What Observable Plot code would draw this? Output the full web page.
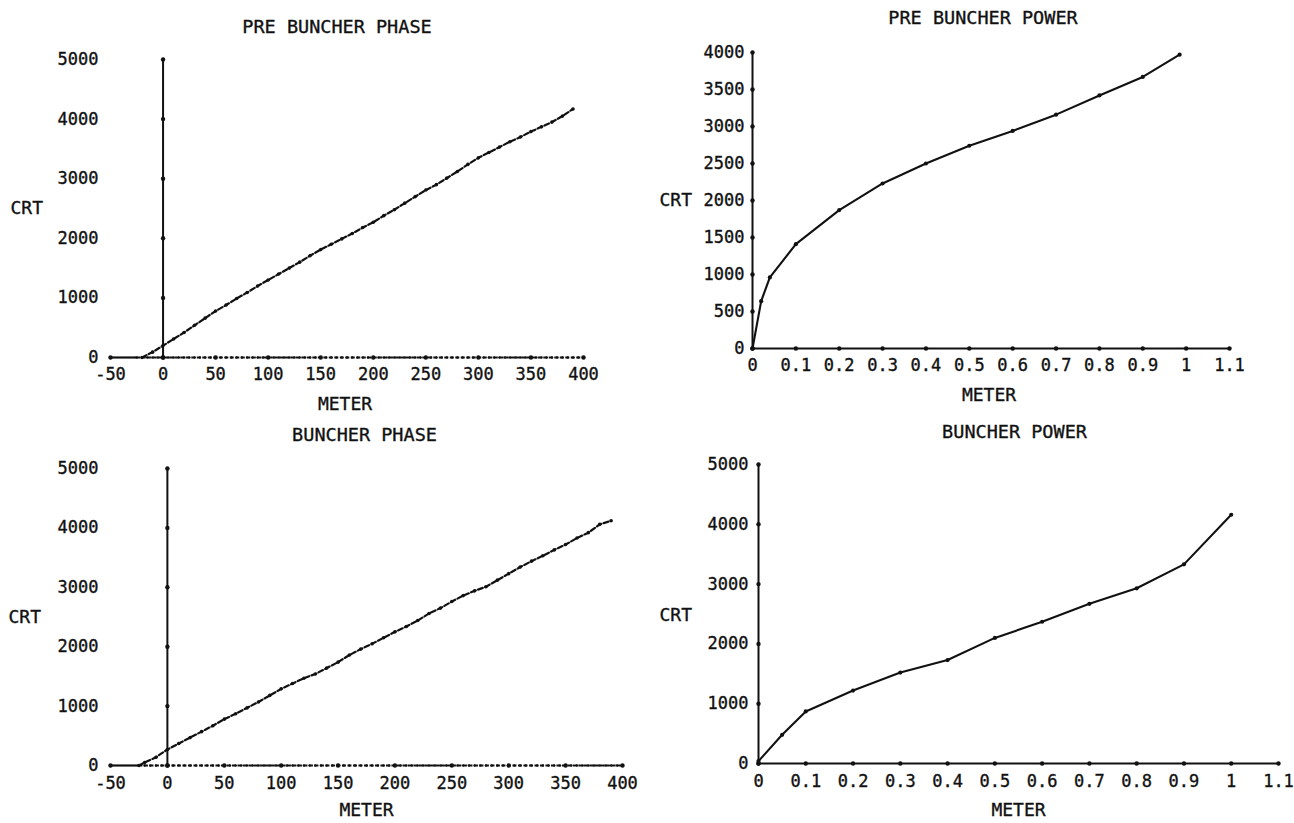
<!DOCTYPE html>
<html><head><meta charset="utf-8">
<script src="https://cdn.jsdelivr.net/npm/d3@7"></script>
<script src="https://cdn.jsdelivr.net/npm/@observablehq/plot@0.6"></script>
<style>
body{margin:0;background:#fff;}
#page{position:relative;width:1294px;height:823px;overflow:hidden;background:#fff;}
#page svg{position:absolute;}
#page svg text{stroke:#111;stroke-width:0.35px;}
</style></head><body><div id="page"></div>
<script>
// ---- tick labels ----
const phaseXTicks = [-50, 0, 50, 100, 150, 200, 250, 300, 350, 400];
const phaseYTicks = [0, 1000, 2000, 3000, 4000, 5000];
const powerXTicks = [0, 0.1, 0.2, 0.3, 0.4, 0.5, 0.6, 0.7, 0.8, 0.9, 1, 1.1];
const preBuncherPowerYTicks = [0, 500, 1000, 1500, 2000, 2500, 3000, 3500, 4000];
const buncherPowerYTicks = [0, 1000, 2000, 3000, 4000, 5000];
const phaseMinorTicks = [-25,-20,-15,-10,-5,5,10,15,20,25,30,35,40,45,55,60,65,70,75,80,85,90,95,105,110,115,120,125,130,135,140,145,155,160,165,170,175,180,185,190,195,205,210,215,220,225,230,235,240,245,255,260,265,270,275,280,285,290,295,305,310,315,320,325,330,335,340,345,355,360,365,370,375,380,385,390,395];

// ---- series ----
const preBuncherPhaseMeter = [-20,-10,0,10,20,30,40,50,60,70,80,90,100,110,120,130,140,150,160,170,180,190,200,210,220,230,240,250,260,270,280,290,300,310,320,330,340,350,360,370,380,390];
const preBuncherPhaseCrt = [0,90,200,310,420,540,660,780,880,990,1090,1200,1300,1400,1500,1600,1710,1810,1900,1990,2080,2180,2270,2380,2480,2590,2700,2810,2900,3010,3120,3240,3350,3440,3530,3620,3700,3790,3870,3950,4050,4170];

const buncherPhaseMeter = [-25,-20,-10,0,10,20,30,40,50,60,70,80,90,100,110,120,130,140,150,160,170,180,190,200,210,220,230,240,250,260,270,280,290,300,310,320,330,340,350,360,370,380,390];
const buncherPhaseCrt = [0,50,140,270,370,470,570,670,780,870,970,1070,1180,1290,1380,1470,1540,1640,1740,1860,1960,2050,2150,2250,2340,2440,2560,2650,2760,2860,2940,3010,3120,3230,3340,3440,3530,3630,3720,3830,3920,4060,4120];

const preBuncherPowerMeter = [0, 0.02, 0.04, 0.1, 0.2, 0.3, 0.4, 0.5, 0.6, 0.7, 0.8, 0.9, 0.985];
const preBuncherPowerCrt = [0, 640, 960, 1410, 1870, 2230, 2500, 2740, 2940, 3160, 3420, 3670, 3970];

const buncherPowerMeter = [0, 0.05, 0.1, 0.2, 0.3, 0.4, 0.5, 0.6, 0.7, 0.8, 0.9, 1];
const buncherPowerCrt = [40, 480, 870, 1220, 1520, 1730, 2100, 2370, 2670, 2930, 3330, 4160];

const INK = "#111";
const FONT = "DejaVu Sans Mono";
const FS = 17;

function panel(o) {
  const [qx, qy, qw, qh] = o.box;
  const [l, t, r, b] = o.frame;
  const data = o.xs.map((x, i) => ({x, y: o.ys[i]}));
  const fmt = d => String(d);
  const marks = [
    Plot.axisY({ticks: o.yTicks, tickSize: 0, tickPadding: l - o.yLabelRight, tickFormat: fmt, label: null, anchor: "left", fill: INK}),
    Plot.axisX({ticks: o.xTicks, tickSize: 0, tickPadding: o.xPad, tickFormat: fmt, label: null, anchor: "bottom", fill: INK}),
    Plot.ruleX([0], {y1: o.yDomain[0], y2: o.yDomain[1], stroke: INK, strokeWidth: 2}),
  ];
  if (o.minor) {
    marks.push(
      Plot.ruleY([0], {x1: o.xDomain[0], x2: o.minor[0], stroke: INK, strokeWidth: 2.2}),
      Plot.ruleY([0], {x1: o.minor[0], x2: o.xDomain[1], stroke: INK, strokeWidth: 1.8, strokeDasharray: "4,1.5"}),
      Plot.dot(o.minor, {x: d => d, y: 0, r: 1.3, fill: INK})
    );
  } else {
    marks.push(Plot.ruleY([0], {x1: o.xDomain[0], x2: o.xDomain[1], stroke: INK, strokeWidth: 2}));
  }
  marks.push(
    Plot.dot(o.yTicks, {x: 0, y: d => d, r: 2.2, fill: INK}),
    Plot.dot(o.xTicks, {x: d => d, y: 0, r: 2.2, fill: INK}),
    Plot.line(data, {x: "x", y: "y", stroke: INK, strokeWidth: o.dashed ? 2.2 : 2.1, strokeDasharray: o.dashed ? "5,2.5" : null}),
    Plot.dot(data, {x: "x", y: "y", r: o.dashed ? 1.8 : 2.1, fill: INK}),
    Plot.text([o.title], {text: d => d, frameAnchor: "top", dx: o.titleDx, dy: o.titleY - t, lineAnchor: "middle", fill: INK, fontSize: 18.5}),
    Plot.text(["CRT"], {text: d => d, frameAnchor: "left", textAnchor: "start", dx: o.crtX - l, dy: o.crtY - (t + b) / 2, lineAnchor: "middle", fill: INK, fontSize: 18}),
    Plot.text(["METER"], {text: d => d, frameAnchor: "bottom", dx: o.meterDx, dy: o.meterY - b, lineAnchor: "middle", fill: INK, fontSize: 18})
  );
  const svg = Plot.plot({
    width: qw, height: qh,
    marginLeft: l - qx, marginTop: t - qy, marginRight: qx + qw - r, marginBottom: qy + qh - b,
    style: {background: "transparent", fontFamily: FONT, fontSize: FS + "px", color: INK, overflow: "visible"},
    x: {domain: o.xDomain},
    y: {domain: o.yDomain},
    marks
  });
  svg.style.left = qx + "px";
  svg.style.top = qy + "px";
  document.getElementById("page").appendChild(svg);
}

panel({
  box: [0, 0, 647, 418], frame: [110, 59, 583, 357],
  title: "PRE BUNCHER PHASE", titleY: 27, titleDx: -10,
  xDomain: [-50, 400], yDomain: [0, 5000], xTicks: phaseXTicks, yTicks: phaseYTicks, minor: phaseMinorTicks,
  xs: preBuncherPhaseMeter, ys: preBuncherPhaseCrt, dashed: true,
  yLabelRight: 98, xPad: 10, crtX: 10, crtY: 208, meterY: 404, meterDx: -2
});
panel({
  box: [647, 0, 647, 418], frame: [752, 52, 1229, 348],
  title: "PRE BUNCHER POWER", titleY: 18, titleDx: -8,
  xDomain: [0, 1.1], yDomain: [0, 4000], xTicks: powerXTicks, yTicks: preBuncherPowerYTicks,
  xs: preBuncherPowerMeter, ys: preBuncherPowerCrt, dashed: false,
  yLabelRight: 744, xPad: 10, crtX: 659, crtY: 200, meterY: 395, meterDx: -2
});
panel({
  box: [0, 418, 647, 405], frame: [110, 468, 622, 765],
  title: "BUNCHER PHASE", titleY: 435, titleDx: -2,
  xDomain: [-50, 400], yDomain: [0, 5000], xTicks: phaseXTicks, yTicks: phaseYTicks, minor: phaseMinorTicks,
  xs: buncherPhaseMeter, ys: buncherPhaseCrt, dashed: true,
  yLabelRight: 98, xPad: 11, crtX: 8, crtY: 617, meterY: 810, meterDx: 0
});
panel({
  box: [647, 418, 647, 405], frame: [758, 464, 1278, 763],
  title: "BUNCHER POWER", titleY: 432, titleDx: -4,
  xDomain: [0, 1.1], yDomain: [0, 5000], xTicks: powerXTicks, yTicks: buncherPowerYTicks,
  xs: buncherPowerMeter, ys: buncherPowerCrt, dashed: false,
  yLabelRight: 748, xPad: 11, crtX: 659, crtY: 615, meterY: 810, meterDx: 0
});
</script></body></html>
